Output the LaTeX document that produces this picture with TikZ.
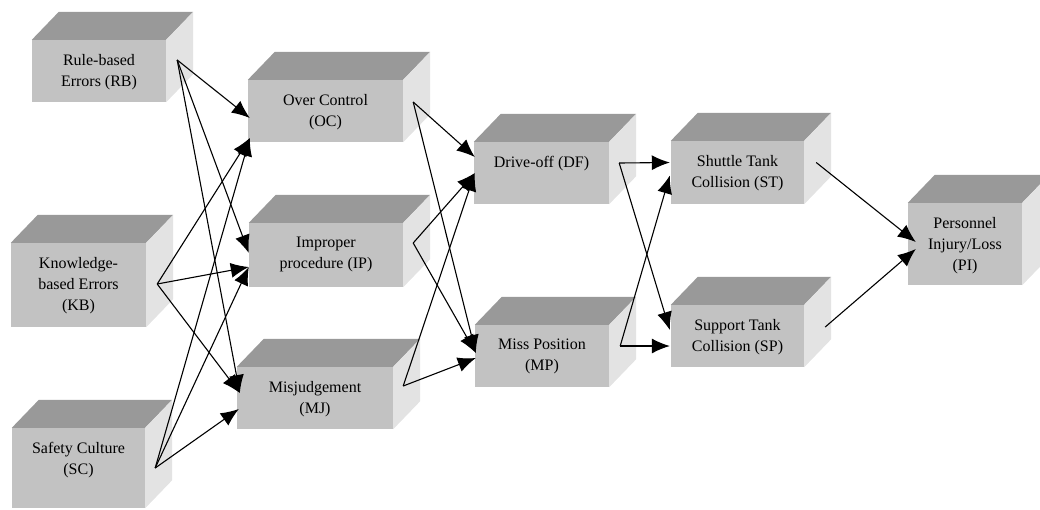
\documentclass[tikz,border=0pt]{standalone}
\usepackage{fontspec}
\setmainfont{Liberation Serif}
\usepackage{xcolor}
\usepackage{tikz}
\usetikzlibrary{arrows.meta}
\definecolor{frontgray}{gray}{0.76}
\definecolor{topgray}{gray}{0.60}
\definecolor{sidegray}{gray}{0.89}
\begin{document}
\begin{tikzpicture}
		[
			x=1pt,y=-1pt,
			>={Latex[length=18pt,width=15pt]},
			front/.style={fill=frontgray,inner sep=0pt},
			box text/.style={anchor=north,yshift=-14pt,inner sep=0pt,align=center,
					font=\fontsize{16}{21}\selectfont},
			top face/.style={fill=topgray},
			side face/.style={fill=sidegray},
			link/.style={->,line width=1.1pt}]
		\clip (0,0) rectangle (1040,509);
		% blocks: name / centre / size / text
		\foreach \name/\x/\y/\w/\h/\txt in {
				RB/99/71/134/62/{Rule-based\\Errors (RB)},
				KB/78.5/285/135/84/{Knowledge-\\based Errors\\(KB)},
				SC/78.5/468/133/80/{Safety Culture\\(SC)},
				OC/325.5/111/155/62/{Over Control\\(OC)},
				IP/326/255/154/64/{Improper\\procedure (IP)},
				MJ/315/398/156/62/{Misjudgement\\(MJ)},
				DF/541.5/173/135/62/{Drive-off (DF)},
				MP/542/356/134/62/{Miss Position\\(MP)},
				ST/737.5/172.5/133/63/{Shuttle Tank\\Collision (ST)},
				SP/737.5/336/133/62/{Support Tank\\Collision (SP)},
				PI/965/244/114/82/{Personnel\\Injury/Loss\\(PI)}}
			{
				\node[front,minimum width=\w,minimum height=\h] (\name) at (\x,\y) {};
				\node[box text] (\name-txt) at (\name.north) {\txt};
				\fill[top face] (\name.north west) -- (\name.north east) -- ++(27,-28)
				-- ([shift={(27,-28)}]\name.north west) -- cycle;
				\fill[side face] (\name.north east) -- (\name.south east) -- ++(27,-28)
				-- ([shift={(27,-28)}]\name.north east) -- cycle;
			}
		% where the arrows leave the blocks
		\coordinate (RB-out) at ([shift={(11,-11)}]RB.east);
		\coordinate (KB-out) at ([shift={(11,-1)}]KB.east);
		\coordinate (SC-out) at ([shift={(10,0)}]SC.east);
		\coordinate (OC-out) at ([shift={(10,-9)}]OC.east);
		\coordinate (IP-out) at ([shift={(10,-12)}]IP.east);
		\coordinate (MJ-out) at ([shift={(10,-12)}]MJ.east);
		\coordinate (DF-out) at ([shift={(10,-10)}]DF.east);
		\coordinate (MP-out) at ([shift={(11,-10)}]MP.east);
		\coordinate (ST-out) at ([shift={(12,-10)}]ST.east);
		\coordinate (SP-out) at ([shift={(21,-9)}]SP.east);
		\foreach \from/\to/\dx/\dy in {
				RB/OC/2/7, RB/IP/0/-2, RB/MJ/3/-5,
				KB/OC/2/27, KB/IP/0/12, KB/MJ/3/-5,
				SC/OC/2/27, SC/IP/0/12, SC/MJ/2/11,
				OC/DF/1/-16, OC/MP/1/-3,
				IP/DF/1/0, IP/MP/1/-3,
				MJ/DF/1/0, MJ/MP/1/2,
				DF/ST/-1/-10, DF/SP/-1/-6,
				MP/ST/-1/3, MP/SP/-1/10,
				ST/PI/8/-2, SP/PI/8/5}
			\draw[link] (\from-out) -- ([shift={(\dx,\dy)}]\to.west);
	\end{tikzpicture}
\end{document}
